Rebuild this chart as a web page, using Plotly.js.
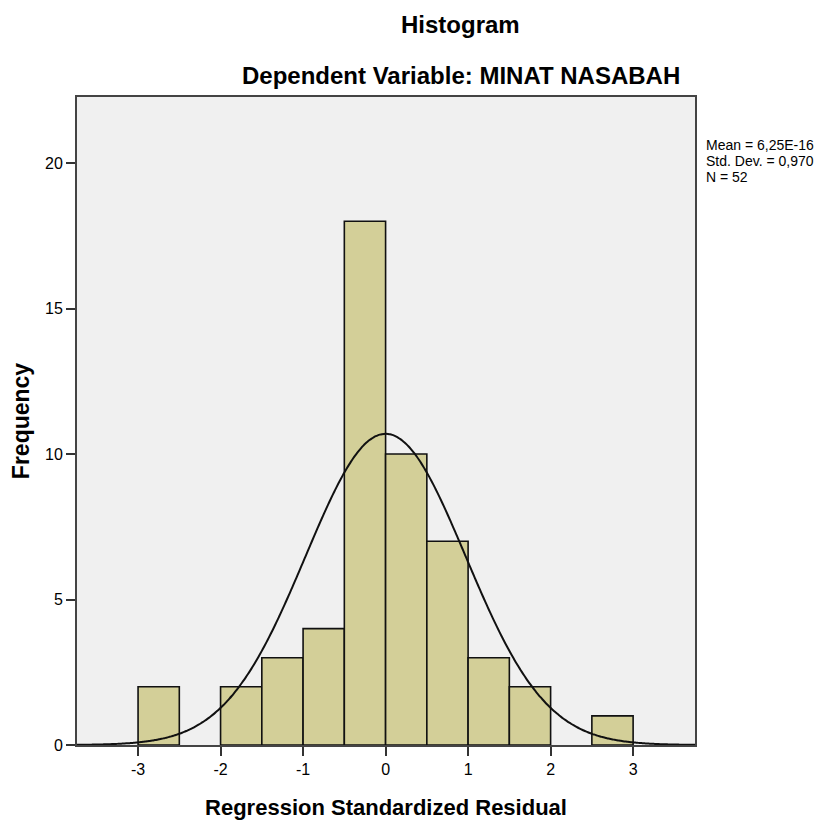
<!DOCTYPE html>
<html>
<head>
<meta charset="utf-8">
<script src="https://cdn.plot.ly/plotly-3.0.1.min.js"></script>
<style>html,body{margin:0;padding:0;background:#fff;}#chart{width:833px;height:823px;}</style>
</head>
<body>
<div id="chart"></div>
<script>
// Histogram bins (left edges) and frequencies
const binStarts = [-3.0, -2.0, -1.5, -1.0, -0.5, 0.0, 0.5, 1.0, 1.5, 2.5];
const counts    = [2, 2, 3, 4, 18, 10, 7, 3, 2, 1];
const binWidth = 0.5;
// Reported statistics (legend)
const meanVal = 6.25e-16;
const stdDev = 0.970;
const nObs = 52;
const statLines = ["Mean = 6,25E-16", "Std. Dev. = 0,970", "N = 52"];
const xTicks = [-3, -2, -1, 0, 1, 2, 3];
const yTicks = [0, 5, 10, 15, 20];

const centers = binStarts.map(s => s + binWidth / 2);

// Fitted normal curve implied by the reported mean, std. dev. and N
const cx = [], cy = [];
for (let i = 0; i <= 300; i++) {
  const x = -3.74 + i * (7.49 / 300);
  cx.push(x);
  const z = (x - meanVal) / stdDev;
  cy.push(nObs * binWidth / (stdDev * Math.sqrt(2 * Math.PI)) * Math.exp(-0.5 * z * z));
}

const font = "Liberation Sans, Arial, sans-serif";

const traces = [
  {
    type: 'bar', x: centers, y: counts, width: binWidth,
    marker: {color: '#d3cf98', line: {color: '#111', width: 1.6}},
    hoverinfo: 'skip', showlegend: false
  },
  {
    type: 'scatter', mode: 'lines', x: cx, y: cy,
    line: {color: '#111', width: 2, shape: 'spline'},
    hoverinfo: 'skip', showlegend: false
  }
];

const annotations = [
  {text: '<b>Histogram</b>', xref: 'paper', yref: 'paper', x: (460 - 77) / 618, y: 1 + (97 - 25) / 648,
   showarrow: false, xanchor: 'center', yanchor: 'middle', font: {family: font, size: 24, color: '#000'}},
  {text: '<b>Dependent Variable: MINAT NASABAH</b>', xref: 'paper', yref: 'paper', x: (461 - 77) / 618, y: 1 + (97 - 75) / 648,
   showarrow: false, xanchor: 'center', yanchor: 'middle', font: {family: font, size: 24, color: '#000'}}
];
statLines.forEach((t, i) => {
  annotations.push({text: t, xref: 'paper', yref: 'paper', x: (705 - 77) / 618, y: 1 - (145 + i * 16 - 97) / 648,
    showarrow: false, xanchor: 'left', yanchor: 'middle', borderpad: 0,
    font: {family: font, size: 14, color: '#000'}});
});

const layout = {
  width: 833, height: 823,
  margin: {l: 77, r: 138, t: 97, b: 78},
  paper_bgcolor: '#ffffff', plot_bgcolor: '#f0f0f0',
  bargap: 0,
  font: {family: font, color: '#000'},
  xaxis: {
    range: [-3.74, 3.75], tickvals: xTicks, ticktext: xTicks.map(String),
    ticks: 'outside', ticklen: 9, tickwidth: 2, tickcolor: '#333',
    showline: true, linecolor: '#444', linewidth: 2, mirror: true,
    showgrid: false, zeroline: false,
    tickfont: {family: font, size: 16, color: '#000'},
    title: {text: '<b>Regression Standardized Residual</b>', font: {family: font, size: 22, color: '#000'}, standoff: 22}
  },
  yaxis: {
    range: [0, 22.27], tickvals: yTicks, ticktext: yTicks.map(String),
    ticks: 'outside', ticklen: 9, tickwidth: 2, tickcolor: '#333',
    showline: true, linecolor: '#444', linewidth: 2, mirror: true,
    showgrid: false, zeroline: false,
    tickfont: {family: font, size: 16, color: '#000'},
    title: {text: '<b>Frequency</b>', font: {family: font, size: 23, color: '#000'}, standoff: 9}
  },
  annotations: annotations
};

Plotly.newPlot('chart', traces, layout, {displayModeBar: false, staticPlot: true});
</script>
</body>
</html>
